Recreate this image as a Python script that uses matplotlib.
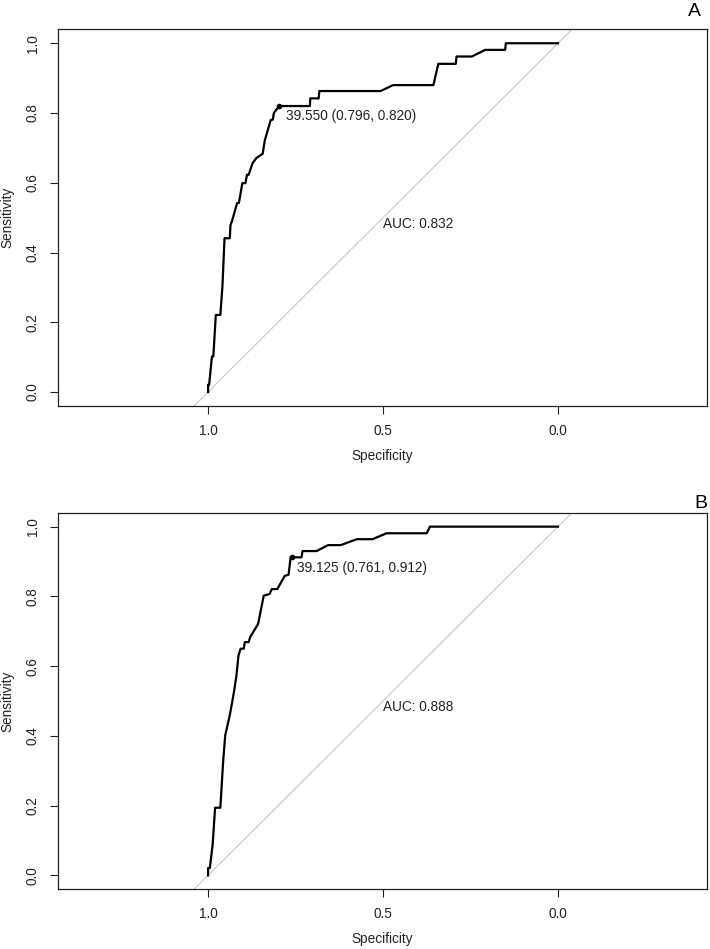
import numpy as np
import matplotlib
matplotlib.use("Agg")
import matplotlib.pyplot as plt

plt.rcParams['font.family'] = ['Liberation Sans', 'DejaVu Sans']

# ROC curve A (specificity, sensitivity)
spec_a = [1.000, 1.000, 0.997, 0.989, 0.985, 0.978, 0.965, 0.959, 0.953, 0.938,
          0.936, 0.932, 0.917, 0.912, 0.902, 0.893, 0.889, 0.884, 0.873, 0.862,
          0.844, 0.838, 0.821, 0.815, 0.812, 0.797, 0.709, 0.708, 0.684, 0.682,
          0.507, 0.471, 0.356, 0.342, 0.292, 0.290, 0.246, 0.208, 0.151, 0.149,
          0.000]
sens_a = [0.000, 0.021, 0.021, 0.102, 0.102, 0.221, 0.221, 0.303, 0.441, 0.441,
          0.479, 0.489, 0.542, 0.542, 0.599, 0.599, 0.623, 0.623, 0.656, 0.671,
          0.683, 0.721, 0.780, 0.781, 0.800, 0.820, 0.820, 0.842, 0.842, 0.863,
          0.863, 0.880, 0.880, 0.941, 0.941, 0.962, 0.962, 0.981, 0.981, 1.000,
          1.000]

# ROC curve B
spec_b = [1.000, 1.000, 0.995, 0.987, 0.980, 0.965, 0.957, 0.951, 0.938, 0.926,
          0.919, 0.913, 0.907, 0.898, 0.895, 0.884, 0.880, 0.857, 0.841, 0.824,
          0.818, 0.802, 0.781, 0.770, 0.764, 0.733, 0.730, 0.690, 0.657, 0.621,
          0.575, 0.530, 0.490, 0.375, 0.366, 0.000]
sens_b = [0.000, 0.021, 0.021, 0.088, 0.194, 0.194, 0.326, 0.402, 0.459, 0.526,
          0.573, 0.631, 0.650, 0.650, 0.669, 0.669, 0.683, 0.721, 0.802, 0.807,
          0.821, 0.821, 0.859, 0.862, 0.912, 0.912, 0.930, 0.930, 0.947, 0.947,
          0.964, 0.964, 0.981, 0.981, 1.000, 1.000]

best_a = (0.796, 0.820)
best_b = (0.761, 0.912)
thr_a = "39.550 (0.796, 0.820)"
thr_b = "39.125 (0.761, 0.912)"
auc_a = "AUC: 0.832"
auc_b = "AUC: 0.888"

panels = [
    dict(spec=spec_a, sens=sens_a, best=best_a, thr=thr_a, auc=auc_a,
         thr_pos=(0.776, 0.790), auc_pos=(0.501, 0.481), tag="A",
         rect=[58 / 710, 1 - 406 / 949, 649 / 710, 376.7 / 949], tag_xy=(694, 12)),
    dict(spec=spec_b, sens=sens_b, best=best_b, thr=thr_b, auc=auc_b,
         thr_pos=(0.745, 0.881), auc_pos=(0.501, 0.483), tag="B",
         rect=[58 / 710, 1 - 889.3 / 949, 649 / 710, 376.6 / 949], tag_xy=(701, 504)),
]

fs = 9.8

fig = plt.figure(figsize=(7.1, 9.49), dpi=100)

for p in panels:
    ax = fig.add_axes(p['rect'])
    ax.set_xlim(1.429, -0.426)
    ax.set_ylim(-0.04, 1.04)

    # chance line
    ax.axline((1, 0), (0, 1), color='#c8c8c8', lw=0.8, zorder=1)
    ax.plot(p['spec'], p['sens'], color='black', lw=1.6, zorder=2)
    ax.plot([p['best'][0]], [p['best'][1]], 'o', color='black', ms=3, zorder=3)

    ax.text(p['thr_pos'][0], p['thr_pos'][1], p['thr'], ha='left', va='center',
            fontsize=fs, color='#222222')
    ax.text(p['auc_pos'][0], p['auc_pos'][1], p['auc'], ha='left', va='center',
            fontsize=fs, color='#222222')

    ax.set_xticks([1.0, 0.5, 0.0])
    ax.set_xticklabels(['1.0', '0.5', '0.0'])
    ax.set_yticks([0.0, 0.2, 0.4, 0.6, 0.8, 1.0])
    ax.set_yticklabels(['0.0', '0.2', '0.4', '0.6', '0.8', '1.0'],
                       rotation=90, va='center')
    ax.tick_params(axis='both', length=6, width=0.8, labelsize=fs,
                   colors='#222222')
    ax.tick_params(axis='x', pad=7)
    ax.tick_params(axis='y', pad=7)
    for s in ax.spines.values():
        s.set_linewidth(0.9)
        s.set_color('#222222')

    ax.set_xlabel('Specificity', fontsize=fs, color='#222222', labelpad=8)
    ax.set_ylabel('Sensitivity', fontsize=fs, color='#222222', labelpad=8)

    fig.text(p['tag_xy'][0] / 710, 1 - p['tag_xy'][1] / 949, p['tag'],
             ha='center', va='center', fontsize=14, color='black')

fig.savefig('out.png', dpi=100)
